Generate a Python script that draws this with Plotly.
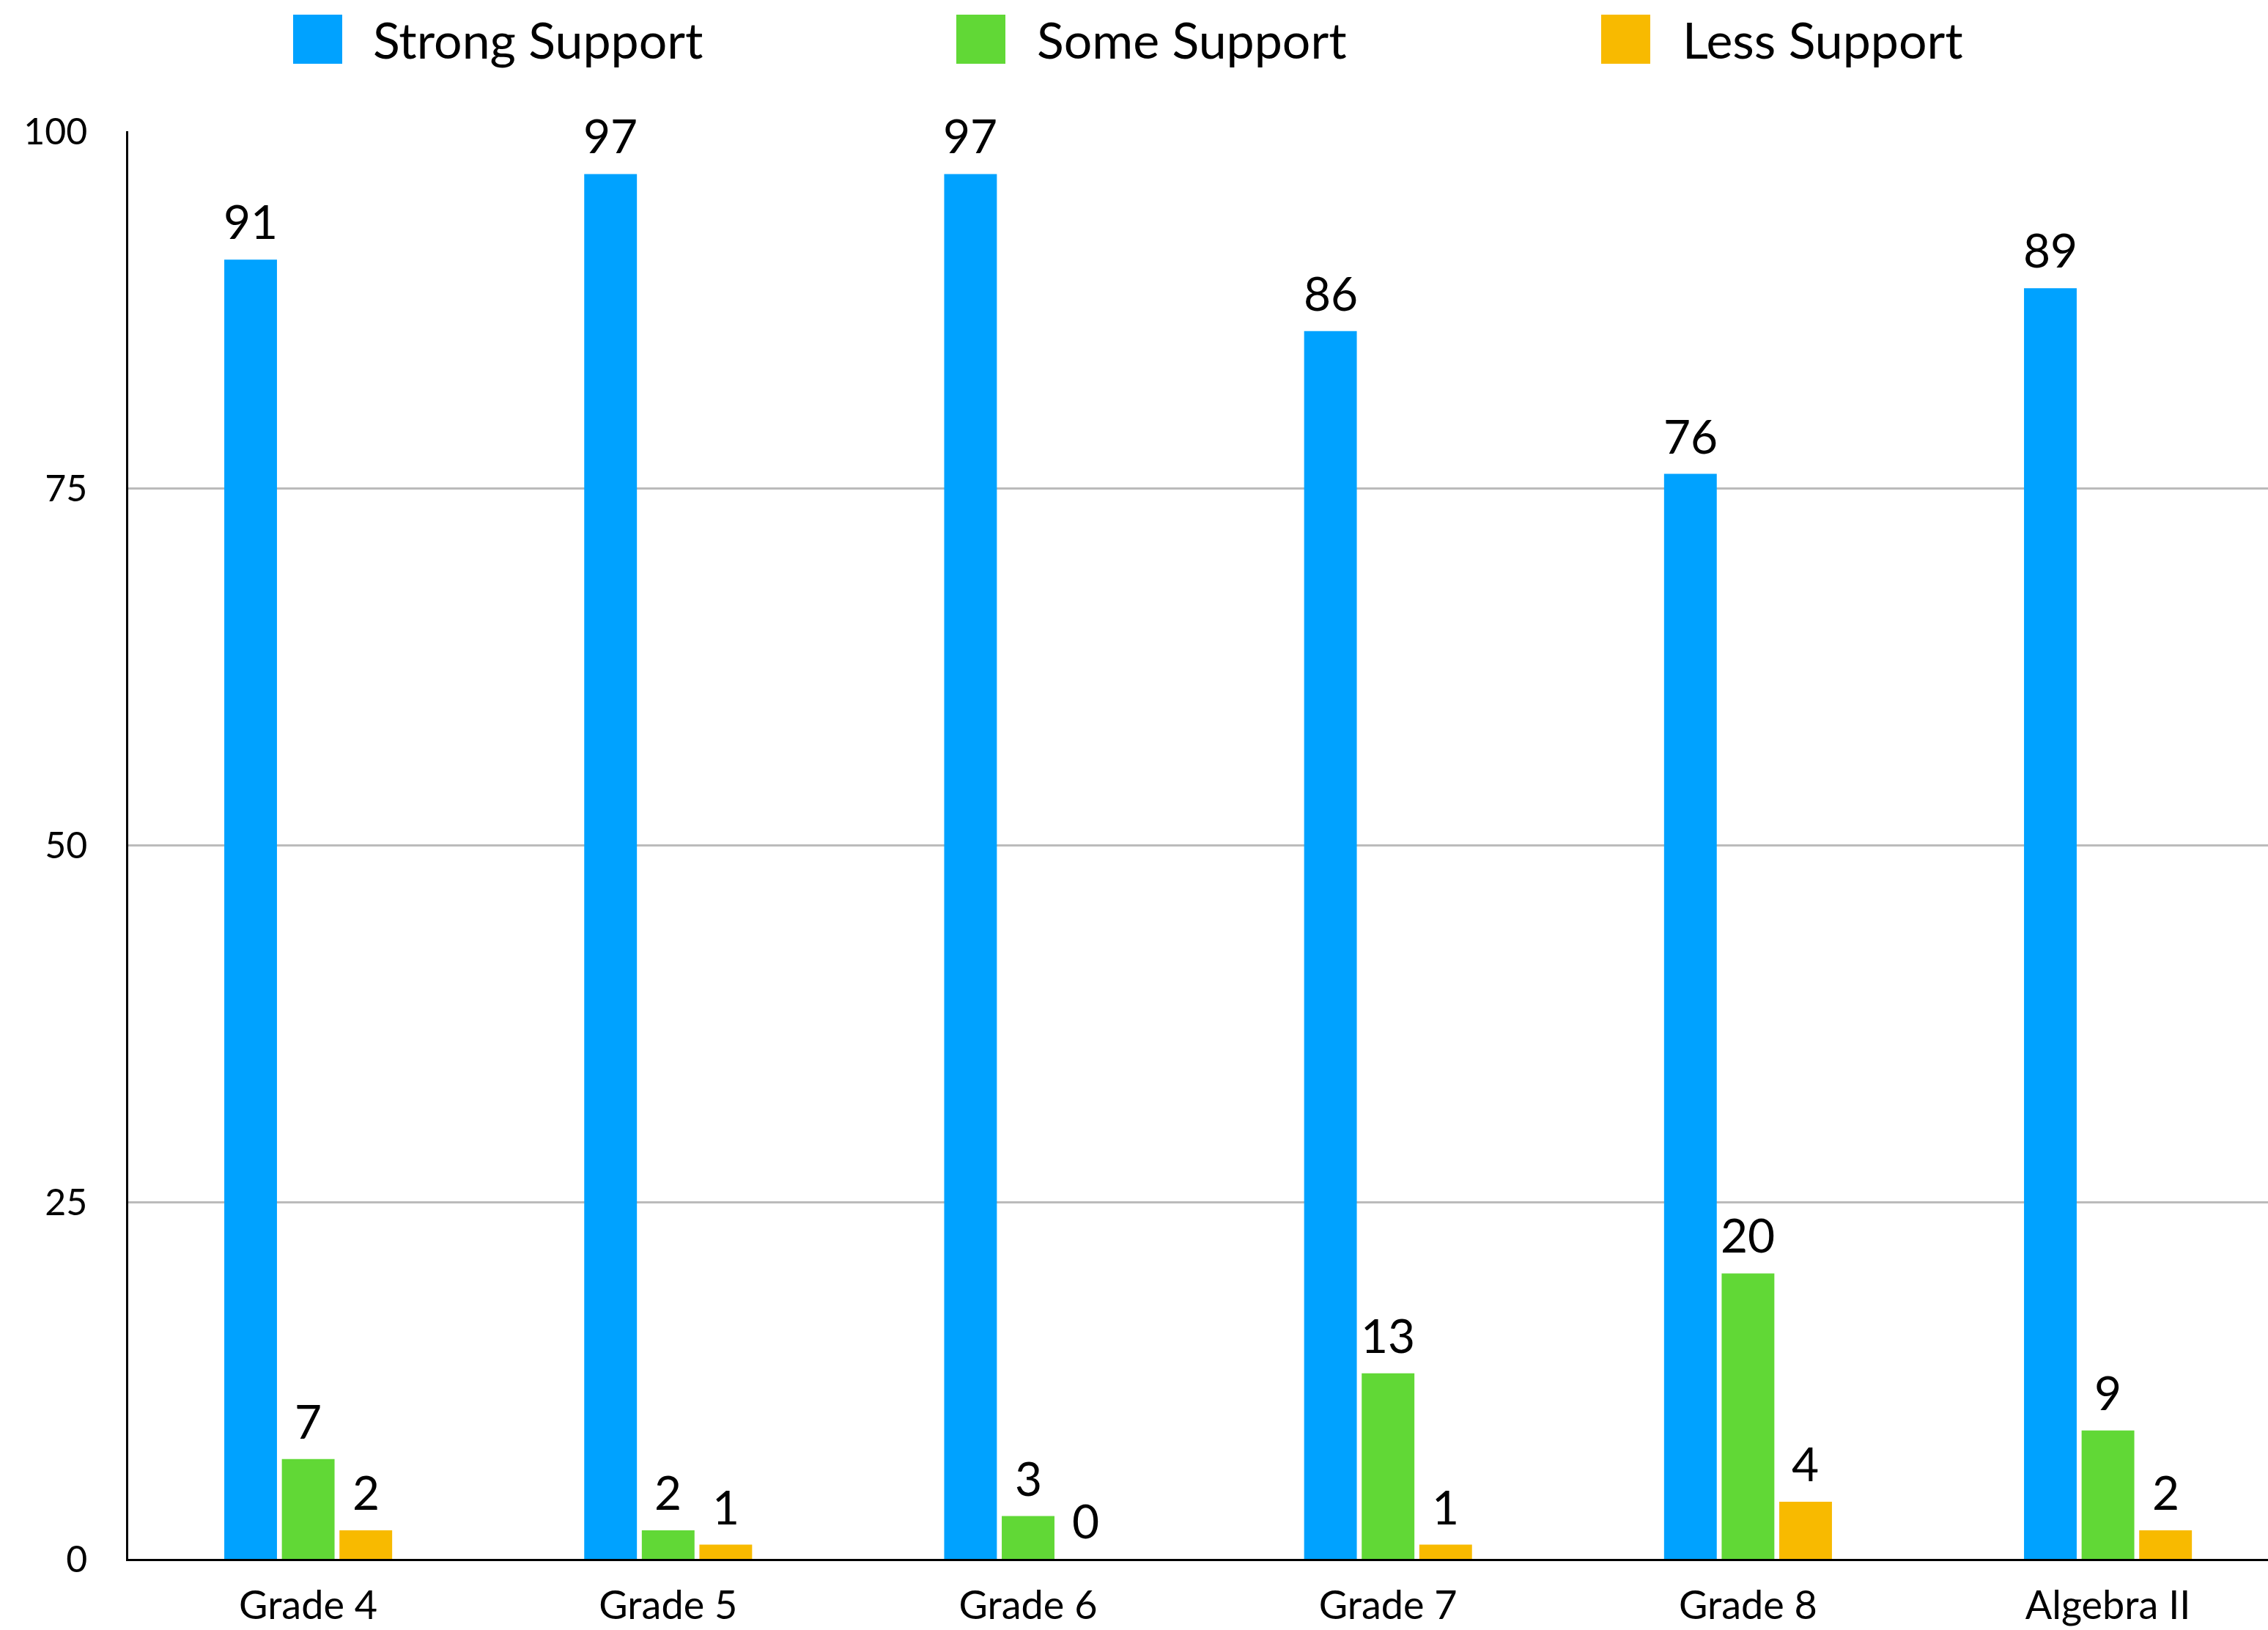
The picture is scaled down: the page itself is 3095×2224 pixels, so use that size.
import plotly.graph_objects as go

categories = ["Grade 4", "Grade 5", "Grade 6", "Grade 7", "Grade 8", "Algebra II"]
series_names = ["Strong Support", "Some Support", "Less Support"]
strong = [91, 97, 97, 86, 76, 89]
some = [7, 2, 3, 13, 20, 9]
less = [2, 1, 0, 1, 4, 2]
y_ticks = [0, 25, 50, 75, 100]

series_values = [strong, some, less]
colors = ["#00A2FF", "#61D836", "#F8BA00"]

W, H = 3095, 2224
ML, MR, MT, MB = 175, 0, 179, 97
PW, PH = W - ML - MR, H - MT - MB
BARGAP = 0.52
GROUPGAP = 0.085
CAT_PX = 491.2
FONT = "Lato, 'Open Sans', sans-serif"

def px_x(px):
    return (px - ML) / PW

def px_y(py):
    return (H - MB - py) / PH

fig = go.Figure()
for name, vals, col in zip(series_names, series_values, colors):
    fig.add_trace(go.Bar(x=categories, y=vals, name=name, marker_color=col,
                         marker_line_width=0, showlegend=False))

annotations = []
n = len(series_names)
slot = (1 - BARGAP) / n
for i, vals in enumerate(series_values):
    for j, v in enumerate(vals):
        annotations.append(dict(
            x=j + (i - (n - 1) / 2) * slot, y=v, xref="x", yref="y",
            text=str(v), showarrow=False, yanchor="bottom", xanchor="center",
            yshift=12, font=dict(family=FONT, size=64, color="black")))

# manual legend (large square swatches)
legend_sq_left = [400, 1305, 2185]
legend_text_left = [507, 1413, 2294]
shapes = []
for name, col, sx, tx in zip(series_names, colors, legend_sq_left, legend_text_left):
    shapes.append(dict(type="rect", xref="paper", yref="paper",
                       x0=px_x(sx), x1=px_x(sx + 67), y0=px_y(87), y1=px_y(20),
                       fillcolor=col, line_width=0))
    annotations.append(dict(x=px_x(tx), y=px_y(53), xref="paper", yref="paper",
                            text=name, showarrow=False, xanchor="left", yanchor="middle",
                            font=dict(family=FONT, size=68, color="black")))

fig.update_layout(
    width=W, height=H, autosize=False,
    margin=dict(l=ML, r=MR, t=MT, b=MB, pad=0),
    paper_bgcolor="white", plot_bgcolor="white",
    barmode="group", bargap=BARGAP, bargroupgap=GROUPGAP,
    font=dict(family=FONT, color="black"),
    showlegend=False,
    annotations=annotations, shapes=shapes,
    xaxis=dict(type="category", range=[-0.5, -0.5 + PW / CAT_PX],
               showgrid=False, showline=True, linecolor="black", linewidth=3,
               ticks="", tickfont=dict(family=FONT, size=54, color="black"),
               ticklabelstandoff=14, automargin=False, fixedrange=True),
    yaxis=dict(range=[0, 100], tickvals=y_ticks, showgrid=True, gridcolor="#BBBBBB",
               gridwidth=3, showline=True, linecolor="black", linewidth=2.5,
               zeroline=False, ticks="", tickfont=dict(family=FONT, size=50, color="black"),
               ticklabelstandoff=43, automargin=False),
)

fig.write_html("out.html", config={"displayModeBar": False},
               post_script="document.body.style.margin='0';document.body.style.overflow='hidden';")
